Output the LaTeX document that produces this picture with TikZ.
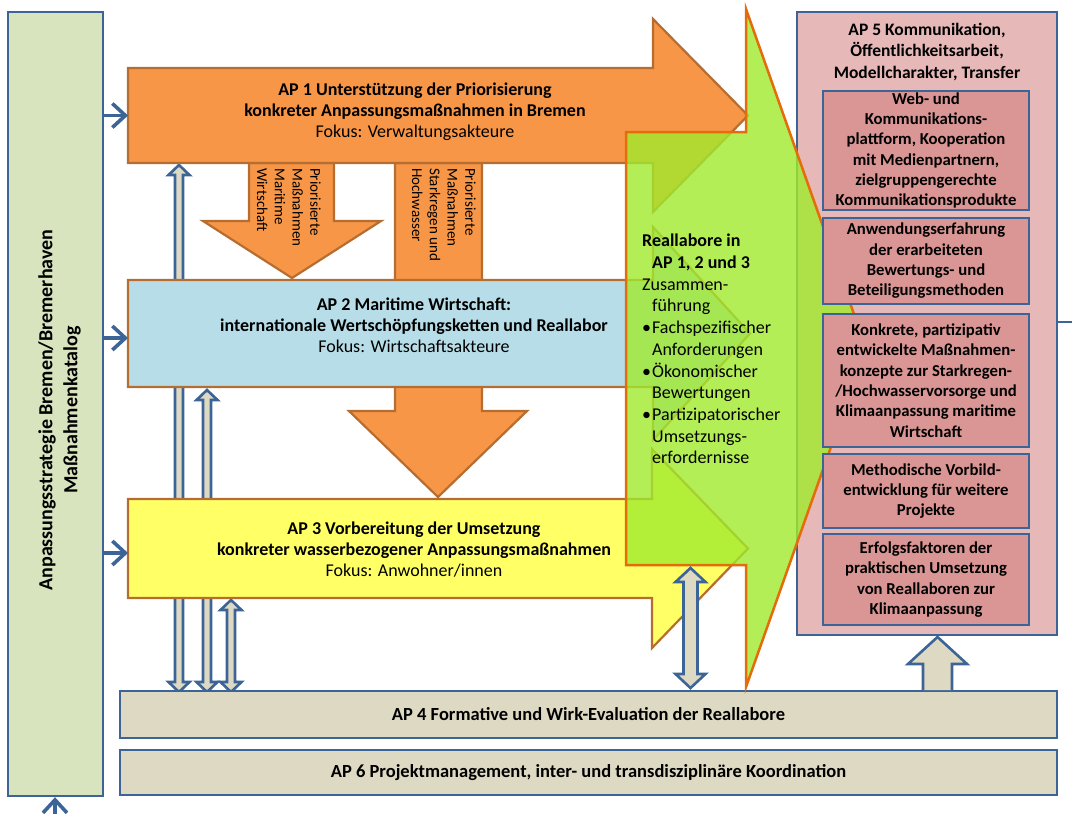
\documentclass[tikz,border=0pt]{standalone}
\usepackage{fontspec}
\setmainfont{Carlito}
\usetikzlibrary{arrows.meta}
\definecolor{bord}{HTML}{3C6496}
\definecolor{obrd}{HTML}{B66D31}
\definecolor{ofill}{HTML}{F79646}
\definecolor{bfill}{HTML}{B7DEE8}
\definecolor{yfill}{HTML}{FFFF66}
\definecolor{lgreen}{HTML}{D7E4BD}
\definecolor{beige}{HTML}{DDD9C3}
\definecolor{pinkA}{HTML}{E6B9B8}
\definecolor{pinkB}{HTML}{D99694}
\definecolor{lime}{RGB}{160,234,45}
\definecolor{gbrd}{HTML}{E46C0A}
\newcommand\dblarr[6]{%
  \draw[darr] ({#1-#4},{#2+#6}) -- ({#1-#5},{#2+#6}) -- (#1,#2) -- ({#1+#5},{#2+#6}) -- ({#1+#4},{#2+#6}) -- ({#1+#4},{#3-#6}) -- ({#1+#5},{#3-#6}) -- (#1,#3) -- ({#1-#5},{#3-#6}) -- ({#1-#4},{#3-#6}) -- cycle;}
\tikzset{
  bluebox/.style={draw=bord, line width=2.4pt},
  obox/.style={draw=obrd, line width=2.2pt, line join=miter},
  darr/.style={draw=bord, fill=beige, line width=2.6pt, line join=miter},
  conn/.style={draw=bord, line width=3.6pt, -{Straight Barb[length=13pt,width=24pt]}},
  titlefont/.style={font=\fontsize{18}{21}\selectfont},
  rotfont/.style={font=\fontsize{15}{17.8}\selectfont},
  inner/.style={bluebox, fill=pinkB, minimum width=206pt, inner sep=0pt, align=center, font=\bfseries\fontsize{16.7}{20.3}\selectfont},
  band/.style={bluebox, fill=beige, minimum width=937pt, minimum height=47pt, inner sep=0pt, font=\bfseries\fontsize{18.5}{20}\selectfont}
}
\begin{document}
\begin{tikzpicture}[x=1pt,y=-1pt]
\useasboundingbox (0,0) rectangle (1072,814);
% left box
\node[bluebox, fill=lgreen, minimum width=95pt, minimum height=784pt, inner sep=0pt] (left) at (55.5,404) {};
\node[rotate=90, align=center, font=\bfseries\fontsize{20}{25}\selectfont] (lefttxt) at (59.5,410) {Anpassungsstrategie Bremen/Bremerhaven\\Maßnahmenkatalog};
% thin double arrows
\dblarr{179}{165}{692}{4}{10.5}{10}
\dblarr{207}{390}{692}{4}{10.5}{10}
\dblarr{231}{600}{692}{4}{10.5}{10}
% orange down arrows
\draw[obox, fill=ofill] (249,163) -- (334,163) -- (334,221) -- (381,221) -- (292,278) -- (203,221) -- (249,221) -- cycle;
\draw[obox, fill=ofill] (395,163) -- (482,163) -- (482,411) -- (527,411) -- (438,497) -- (349,411) -- (395,411) -- cycle;
\node[rotfont, rotate=-90, align=left, anchor=north west, inner sep=0pt] (dtxt1) at (321,168) {Priorisierte\\Maßnahmen\\Maritime\\Wirtschaft};
\node[rotfont, rotate=-90, align=left, anchor=north west, inner sep=0pt] (dtxt2) at (476,168) {Priorisierte\\Maßnahmen\\Starkregen und\\Hochwasser};
% AP1, AP2, AP3
\draw[obox, fill=ofill] (128,68) -- (653,68) -- (653,19) -- (748,115.5) -- (653,212) -- (653,163) -- (128,163) -- cycle;
\draw[obox, fill=bfill] (128,280) -- (653,280) -- (653,227) -- (750,333.5) -- (653,440) -- (653,387) -- (128,387) -- cycle;
\draw[obox, fill=yfill] (128,499) -- (652,499) -- (652,449) -- (748,548.5) -- (652,648) -- (652,598) -- (128,598) -- cycle;
\coordinate (ap1w) at (128,115.5);
\coordinate (ap2w) at (128,338);
\coordinate (ap3w) at (128,553);
\node[titlefont, align=center] (ap1) at (415,112) {\textbf{AP 1 Unterstützung der Priorisierung}\\\textbf{konkreter Anpassungsmaßnahmen in Bremen}\\Fokus: Verwaltungsakteure};
\node[titlefont, align=center] (ap2) at (414,325) {\textbf{AP 2 Maritime Wirtschaft:}\\\textbf{internationale Wertschöpfungsketten und Reallabor}\\Fokus: Wirtschaftsakteure};
\node[titlefont, align=center] (ap3) at (414,550) {\textbf{AP 3 Vorbereitung der Umsetzung}\\\textbf{konkreter wasserbezogener Anpassungsmaßnahmen}\\Fokus: Anwohner/innen};
% AP4, AP6
\node[band] (ap4) at (588.5,714.5) {AP 4 Formative und Wirk-Evaluation der Reallabore};
\node[band, minimum height=45pt] (ap6) at (588.5,772.5) {AP 6 Projektmanagement, inter- und transdisziplinäre Koordination};
% AP5 outer
\node[bluebox, fill=pinkA, minimum width=260pt, minimum height=623pt, inner sep=0pt] (ap5) at (927,323.5) {};
\node[align=center, font=\bfseries\fontsize{17.5}{21.5}\selectfont] (ap5t) at (927,52) {AP 5 Kommunikation,\\Öffentlichkeitsarbeit,\\Modellcharakter, Transfer};
\coordinate (rightend) at (1072,322);
\draw[bord, line width=2.4pt] (ap5.east |- rightend) -- (rightend);
% green arrow
\draw[draw=gbrd, line width=2.5pt, fill=lime, fill opacity=0.8, line join=miter] (626,132) -- (746,132) -- (746,9) -- (866,348) -- (746,687) -- (746,565) -- (626,565) -- cycle;
\node[anchor=north west, inner sep=0pt, align=left, font=\fontsize{18}{21.7}\selectfont] (green) at (642,234) {\textbf{Reallabore in}\\\hspace*{10pt}\textbf{AP 1, 2 und 3}\\Zusammen-\\\hspace*{10pt}führung\\\makebox[10pt][l]{•}Fachspezifischer\\\hspace*{10pt}Anforderungen\\\makebox[10pt][l]{•}Ökonomischer\\\hspace*{10pt}Bewertungen\\\makebox[10pt][l]{•}Partizipatorischer\\\hspace*{10pt}Umsetzungs-\\\hspace*{10pt}erfordernisse};
% inner boxes
\node[inner, minimum height=119pt] (b1) at (926,150.5) {Web- und\\Kommunikations-\\plattform, Kooperation\\mit Medienpartnern,\\zielgruppengerechte\\Kommunikationsprodukte};
\node[inner, minimum height=86pt] (b2) at (926,261) {Anwendungserfahrung\\der erarbeiteten\\Bewertungs- und\\Beteiligungsmethoden};
\node[inner, minimum height=133pt] (b3) at (926,380.5) {Konkrete, partizipativ\\entwickelte Maßnahmen-\\konzepte zur Starkregen-\\/Hochwasservorsorge und\\Klimaanpassung maritime\\Wirtschaft};
\node[inner, minimum height=74pt] (b4) at (926,491) {Methodische Vorbild-\\entwicklung für weitere\\Projekte};
\node[inner, minimum height=91pt] (b5) at (926,579.5) {Erfolgsfaktoren der\\praktischen Umsetzung\\von Reallaboren zur\\Klimaanpassung};
% arrows D and E
\dblarr{690.5}{568}{688}{7}{15}{14}
\draw[darr] (923,690) -- (923,664) -- (908,664) -- (937.5,637) -- (967,664) -- (952,664) -- (952,690);
% blue connectors
\draw[conn] (left.east |- ap1w) -- (ap1w);
\draw[conn] (left.east |- ap2w) -- (ap2w);
\draw[conn] (left.east |- ap3w) -- (ap3w);
\coordinate (bottomin) at (55,814);
\draw[conn] (bottomin) -- (left.south -| bottomin);
\end{tikzpicture}
\end{document}
